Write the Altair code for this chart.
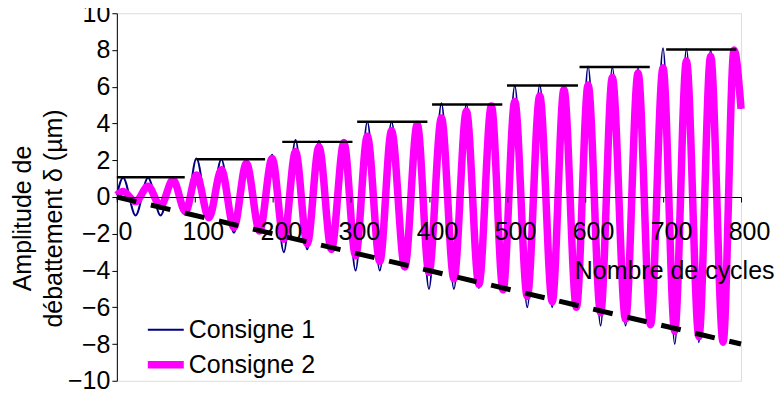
import altair as alt
import pandas as pd

FONT = "Liberation Sans"

series_names = ["Consigne 1", "Consigne 2"]
series_colors = ["#000080", "#FF00FF"]
series_widths = [2, 7.5]

# x positions (cycles) of the successive maxima and minima of the oscillation
peak_x = [8, 40, 72, 102, 134, 166, 199, 229, 259, 291, 321, 352, 385,
          416, 448, 480, 510, 542, 573, 604, 635, 668, 700, 730, 761, 791]
trough_x = [24, 56, 88, 118, 150, 183, 214, 244, 275, 306, 337, 369, 400,
            432, 464, 495, 526, 558, 589, 620, 652, 684, 715, 746, 777]

# Consigne 1 (thin navy line)
c1_peaks = [1.05, 1.05, 1.05, 2.1, 2.05, 2.05, 2.3, 3.1, 3.05, 2.95, 4.1, 4.1, 4.0,
            5.1, 5.05, 5.0, 6.05, 6.1, 6.0, 7.1, 7.05, 7.0, 8.1, 8.05, 8.0, 8.0]
c1_troughs = [-1.0, -1.0, -0.9, -1.1, -1.95, -1.95, -3.0, -2.85, -3.0, -4.0, -4.0, -3.95, -5.0,
              -5.0, -4.95, -5.0, -6.0, -6.0, -6.0, -7.0, -7.0, -6.9, -8.0, -7.9, -7.9]
c1_start, c1_end = 0.1, 4.8

# Consigne 2 (thick magenta line)
c2_peaks = [0.3, 0.58, 0.94, 1.2, 1.48, 1.84, 2.1, 2.47, 2.74, 2.96, 3.3, 3.6, 3.95,
            4.3, 4.67, 4.95, 5.2, 5.5, 5.85, 6.1, 6.5, 6.75, 7.03, 7.4, 7.66, 8.0]
c2_troughs = [-0.25, -0.5, -0.8, -1.13, -1.65, -1.85, -2.3, -2.55, -2.85, -3.2, -3.5, -3.8, -4.1,
              -4.45, -4.75, -5.05, -5.4, -5.7, -6.0, -6.3, -6.65, -6.95, -7.3, -7.6, -7.9]
c2_start, c2_end = 0.1, 4.8
start_x, end_x = 0, 800

# black horizontal level segments
level_x1 = [0, 102, 212, 308, 404, 500, 593, 704]
level_x2 = [87, 190, 302, 398, 494, 591, 683, 794]
level_y = [1.07, 2.05, 3.0, 4.1, 5.04, 6.07, 7.07, 8.03]

# dashed trend line
trend_x = [0, 800]
trend_y = [0, -8]

x_ticks = [0, 100, 200, 300, 400, 500, 600, 700, 800]
y_ticks = [-10, -8, -6, -4, -2, 0, 2, 4, 6, 8, 10]


def build_series(name, start, peaks, troughs, end):
    rows = [(start_x, start)]
    for i, px in enumerate(peak_x):
        rows.append((px, peaks[i]))
        if i < len(trough_x):
            rows.append((trough_x[i], troughs[i]))
    rows.append((end_x, end))
    return pd.DataFrame({"x": [r[0] for r in rows], "y": [r[1] for r in rows], "series": name})


lines_df = pd.concat([
    build_series(series_names[0], c1_start, c1_peaks, c1_troughs, c1_end),
    build_series(series_names[1], c2_start, c2_peaks, c2_troughs, c2_end),
], ignore_index=True)

levels_df = pd.DataFrame({"x1": level_x1, "x2": level_x2, "y": level_y})
trend_df = pd.DataFrame({"x": trend_x, "y": trend_y})

W, H = 625, 368

x_scale = alt.Scale(domain=[0, 800], nice=False, zero=False)
y_scale = alt.Scale(domain=[-10, 10], nice=False, zero=False)

legend_cfg = dict(
    orient="none", legendX=27, legendY=298, title=None,
    symbolType="stroke", symbolSize=1296, labelFontSize=25, labelFont=FONT,
    labelColor="black", labelOffset=1, rowPadding=0, padding=0,
)

x_axis = alt.Axis(values=x_ticks, offset=-H / 2, grid=False, labelFlush=False, zindex=1,
                  labelOverlap=False, labelFontSize=25, labelFont=FONT, labelColor="black",
                  labelPadding=18, labelOffset=8, tickSize=5, tickColor="black",
                  domainColor="black", title="Nombre de cycles", titleFont=FONT,
                  titleFontSize=25, titleFontWeight="normal", titleColor="black",
                  titleAlign="right", titleBaseline="alphabetic", titleAnchor="end",
                  titleX=658, titleY=82)
y_axis = alt.Axis(values=y_ticks, grid=False, labelFlush=False, labelOverlap=False,
                  labelFontSize=25, labelFont=FONT, labelColor="black", labelPadding=2,
                  tickSize=5, tickColor="black", domainColor="black",
                  title=["Amplitude de", "débattement δ (µm)"], titleFont=FONT,
                  titleFontSize=25, titleFontWeight="normal", titleColor="black",
                  titleAngle=270, titleAlign="center", titleBaseline="middle",
                  titleLineHeight=31, titleX=-94, titleY=205)

lines = alt.Chart(lines_df).mark_line(interpolate="monotone").encode(
    x=alt.X("x:Q", scale=x_scale, axis=x_axis),
    y=alt.Y("y:Q", scale=y_scale, axis=y_axis),
    color=alt.Color("series:N", scale=alt.Scale(domain=series_names, range=series_colors),
                    legend=alt.Legend(**legend_cfg)),
    strokeWidth=alt.StrokeWidth("series:N", scale=alt.Scale(domain=series_names, range=series_widths),
                                legend=alt.Legend(**legend_cfg)),
)

levels = alt.Chart(levels_df).mark_rule(color="black", strokeWidth=2.5).encode(
    x=alt.X("x1:Q", scale=x_scale, axis=x_axis),
    x2="x2:Q",
    y=alt.Y("y:Q", scale=y_scale, axis=y_axis),
)

trend = alt.Chart(trend_df).mark_line(color="black", strokeWidth=5, strokeDash=[20, 15]).encode(
    x=alt.X("x:Q", scale=x_scale, axis=x_axis),
    y=alt.Y("y:Q", scale=y_scale, axis=y_axis),
)

chart = alt.layer(lines, levels, trend).properties(
    width=W, height=H,
    autosize=alt.AutoSizeParams(type="none"),
    padding={"left": 109, "top": 5, "right": 35, "bottom": 11},
).configure_view(stroke="black", strokeWidth=1).configure(background="white"
).configure_axisY(labelOverlap=False)

chart.save("out.html", embed_options={"renderer": "svg", "actions": False})
